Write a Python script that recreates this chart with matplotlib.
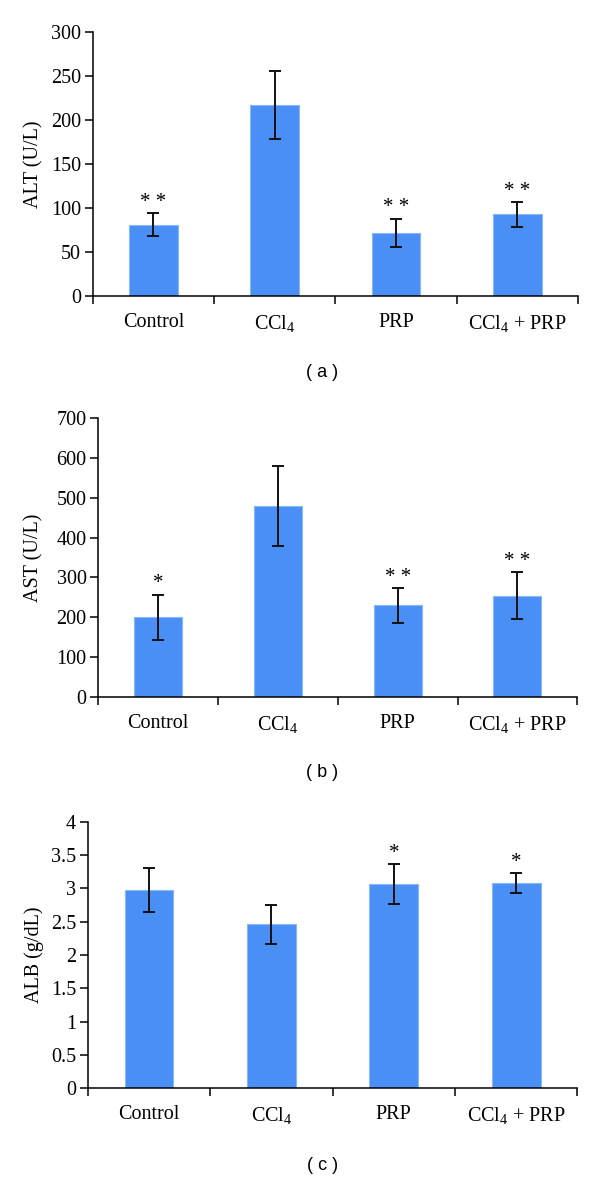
import matplotlib
matplotlib.use('Agg')
import numpy as np
from matplotlib import pyplot as plt

plt.rcParams['font.family'] = ['Liberation Serif', 'DejaVu Serif']
plt.rcParams['mathtext.default'] = 'regular'

groups = ['Control', 'CCl$_4$', 'PRP', 'CCl$_4$ + PRP']

alt = [81, 217, 72, 93]
alt_err = [13, 39, 16, 14]
alt_sig = ['* *', '', '* *', '* *']

ast = [200, 480, 230, 254]
ast_err = [57, 100, 43, 59]
ast_sig = ['*', '', '* *', '* *']

alb = [2.98, 2.46, 3.06, 3.08]
alb_err = [0.33, 0.29, 0.30, 0.15]
alb_sig = ['', '', '*', '*']

panels = [
    (alt, alt_err, alt_sig, 'ALT (U/L)', [0, 300], np.arange(0, 301, 50), '( a )'),
    (ast, ast_err, ast_sig, 'AST (U/L)', [0, 700], np.arange(0, 701, 100), '( b )'),
    (alb, alb_err, alb_sig, 'ALB (g/dL)', [0, 4], np.arange(0, 4.01, 0.5), '( c )'),
]
boxes = [
    [0.1545, 0.7489, 0.809, 0.2242],
    [0.164, 0.4091, 0.798, 0.2369],
    [0.1463, 0.0777, 0.816, 0.2259],
]
tag_y = [0.6847, 0.345, 0.0127]
label_x = [-0.1004, -0.1137, -0.0894]

fig = plt.figure(figsize=(6, 11.8), dpi=100)
x = np.arange(len(groups))

for i, (vals, errs, sig, ylab, ylim, yt, tag) in enumerate(panels):
    ax = fig.add_axes(boxes[i])
    ax.bar(x, vals, width=0.4, color='#4a8ff5', edgecolor='#86b7f8', linewidth=0.8, zorder=2)
    ax.errorbar(x, vals, yerr=errs, fmt='none', ecolor='#111111', elinewidth=1.4,
                capsize=4, capthick=1.4, zorder=3)
    for xi, v, e, s in zip(x, vals, errs, sig):
        if s:
            ax.annotate(s, (xi, v + e), xytext=(0, 1), textcoords='offset points',
                        ha='center', va='bottom', fontsize=15)
    ax.set_xlim(-0.5, 3.5)
    ax.set_ylim(ylim)
    ax.set_yticks(yt)
    ax.set_yticklabels(['%g' % t for t in yt])
    ax.set_xticks(np.arange(-0.5, 4, 1))
    ax.set_xticklabels([])
    ax.set_xticks(x, minor=True)
    ax.set_xticklabels(groups, minor=True)
    ax.tick_params(axis='x', which='major', direction='out', length=6, width=1.1)
    ax.tick_params(axis='x', which='minor', length=0, pad=12, labelsize=14.5)
    ax.tick_params(axis='y', direction='out', length=5.5, width=1.1, labelsize=14.5, pad=3)
    ax.spines['top'].set_visible(False)
    ax.spines['right'].set_visible(False)
    for sp in ['left', 'bottom']:
        ax.spines[sp].set_linewidth(1.1)
    ax.set_ylabel(ylab, fontsize=14.5)
    ax.yaxis.set_label_coords(label_x[i], 0.5)
    fig.text(0.537, tag_y[i], tag, ha='center', va='center', fontsize=13,
             family=['Liberation Sans', 'DejaVu Sans'])

fig.savefig('out.png', dpi=100)
